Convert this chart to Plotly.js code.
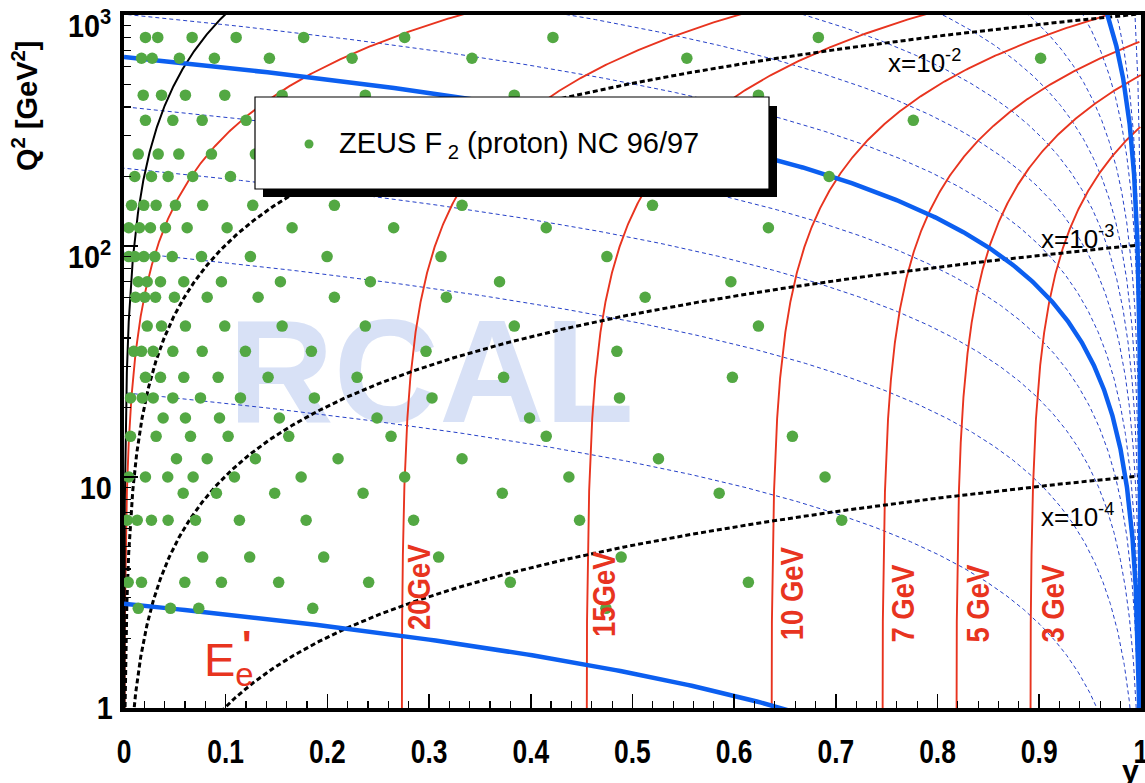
<!DOCTYPE html>
<html>
<head>
<meta charset="utf-8">
<script src="https://cdn.plot.ly/plotly-3.0.1.min.js"></script>
<style>
  html, body { margin: 0; padding: 0; background: #ffffff; }
  #plot { width: 1145px; height: 783px; }
</style>
</head>
<body>
<div id="plot"></div>
<script>
// HERA beam settings (GeV)
const E_ELECTRON = 27.5;
const E_PROTON = 920;
const S_CM = 4 * E_ELECTRON * E_PROTON;

// Contours drawn on the (y, Q^2) plane
const E_PRIME_VALUES = [27.5, 20, 15, 10, 7, 5, 3];          // scattered electron energy, GeV
const E_PRIME_LABELS = ['20GeV', '15GeV', '10 GeV', '7 GeV', '5 GeV', '3 GeV'];
const THETA_CAL = [35, 130, 176.5];                             // calorimeter boundaries, degrees
const THETA_GRID = [15, 30, 45, 60, 75, 90, 105, 120, 140, 150, 160, 170];
const X_DASHED = [1e-2, 1e-3, 1e-4];
const X_SOLID = [1e-1];
const X_LABELS = ['x=10<sup>-2</sup>', 'x=10<sup>-3</sup>', 'x=10<sup>-4</sup>'];

// ZEUS F2 (proton) NC 96/97 bin centres: Q^2 rows and the y of each bin in that row
const Q2_BINS = [800, 650, 450, 350, 250, 200, 150, 120, 90, 70, 60, 45, 35, 27, 22, 18, 15, 12, 10, 8.5, 6.5, 4.5, 3.5, 2.7];
const Y_BINS = [
  [0.0211, 0.0332, 0.0670, 0.1103, 0.1767, 0.2760, 0.4218, 0.6828],
  [0.0172, 0.0277, 0.0545, 0.0889, 0.1430, 0.2243, 0.3422, 0.5535, 0.9014],
  [0.0189, 0.0369, 0.0604, 0.0991, 0.1555, 0.2373, 0.3838, 0.6239],
  [0.0211, 0.0480, 0.0769, 0.1201, 0.7762],
  [0.0140, 0.0336, 0.0539, 0.0860, 0.1292],
  [0.0106, 0.0270, 0.0434, 0.0676, 0.1047, 0.6934],
  [0.0074, 0.0195, 0.0316, 0.0506, 0.0774, 0.1266, 0.2069, 0.3324, 0.5197],
  [0.0047, 0.0152, 0.0260, 0.0408, 0.0621, 0.1014, 0.1653, 0.2652, 0.4152, 0.6337],
  [0.0047, 0.0106, 0.0195, 0.0303, 0.0474, 0.0762, 0.1243, 0.1997, 0.3117, 0.4749],
  [0.0140, 0.0228, 0.0359, 0.0588, 0.0958, 0.1538, 0.2423, 0.3693, 0.5968],
  [0.0113, 0.0204, 0.0310, 0.0496, 0.0818, 0.1319, 0.2069, 0.3170, 0.5125],
  [0.0228, 0.0369, 0.0604, 0.0991, 0.1555, 0.2373, 0.3838, 0.6239],
  [0.0096, 0.0172, 0.0287, 0.0480, 0.0769, 0.1194, 0.1843, 0.2970, 0.4847],
  [0.0211, 0.0359, 0.0588, 0.0926, 0.1417, 0.2292, 0.3733, 0.5983],
  [0.0064, 0.0179, 0.0287, 0.0480, 0.0752, 0.1145, 0.1872, 0.3029, 0.4873],
  [0.0385, 0.0604, 0.0939, 0.1528, 0.2488, 0.3988],
  [0.0064, 0.0316, 0.0654, 0.1024, 0.1620, 0.2626, 0.4152, 0.6573],
  [0.0516, 0.0818, 0.1292, 0.2105, 0.3324, 0.5256],
  [0.0047, 0.0211, 0.0430, 0.0680, 0.1086, 0.1742, 0.2760, 0.4375, 0.6894],
  [0.0582, 0.0909, 0.1482, 0.2351, 0.3720, 0.5853],
  [0.0031, 0.0130, 0.0270, 0.0434, 0.0703, 0.1135, 0.1791, 0.2848, 0.4480, 0.7058],
  [0.0774, 0.1236, 0.1964, 0.3094, 0.4889],
  [0.0041, 0.0172, 0.0598, 0.0958, 0.1521, 0.2406, 0.3799, 0.6140],
  [0.0140, 0.0457, 0.0735, 0.1856, 0.4739]
];

const COL_RED = '#e8341f';
const COL_BLUE = '#0c5ff0';
const COL_BLUE_DASH = '#2540c8';
const COL_GREEN = '#53a843';

// Q^2 samples (log spaced) used to trace every kinematic contour
const logQ = [];
for (let u = -1; u <= 3.6001; u += 0.004) logQ.push(Math.pow(10, u));

// constant scattered-electron energy: E' = E(1-y) + Q^2/(4E)
function energyLine(ep) {
  const xs = [], ys = [];
  logQ.forEach(q => {
    const y = 1 - (ep - q / (4 * E_ELECTRON)) / E_ELECTRON;
    if (y >= 0 && y <= 1) { xs.push(y); ys.push(q); }
  });
  return { xs, ys };
}

// constant electron polar angle: Q^2 = 4E^2 (1-y) cot^2(theta/2)
function angleLine(thetaDeg) {
  const c = 1 / Math.tan(thetaDeg * Math.PI / 360);
  const q0 = 4 * E_ELECTRON * E_ELECTRON * c * c;
  const xs = [], ys = [];
  logQ.forEach(q => {
    const y = 1 - q / q0;
    if (y >= 0 && y <= 1) { xs.push(y); ys.push(q); }
  });
  xs.push(0); ys.push(q0);
  return { xs, ys };
}

// constant Bjorken x: Q^2 = s x y
function xLine(x) {
  const xs = [], ys = [];
  logQ.forEach(q => {
    const y = q / (S_CM * x);
    if (y > 0 && y <= 1) { xs.push(y); ys.push(q); }
  });
  return { xs, ys };
}

const traces = [];

// RCAL region name, sitting behind everything else
traces.push({
  x: [0.302], y: [25], mode: 'text', text: ['RCAL'],
  textfont: { family: 'Liberation Sans, Arial, sans-serif', size: 146, weight: 'bold', color: '#d8e1f6' },
  textposition: 'middle center', hoverinfo: 'skip', showlegend: false
});

THETA_GRID.forEach(t => {
  const l = angleLine(t);
  traces.push({ x: l.xs, y: l.ys, mode: 'lines', hoverinfo: 'skip', showlegend: false,
    line: { color: COL_BLUE_DASH, width: 1, dash: '4px,3px' } });
});

E_PRIME_VALUES.forEach(ep => {
  const l = energyLine(ep);
  traces.push({ x: l.xs, y: l.ys, mode: 'lines', hoverinfo: 'skip', showlegend: false,
    line: { color: COL_RED, width: 1.9 } });
});

X_SOLID.forEach(x => {
  const l = xLine(x);
  traces.push({ x: l.xs, y: l.ys, mode: 'lines', hoverinfo: 'skip', showlegend: false,
    line: { color: '#000000', width: 2 } });
});

X_DASHED.forEach(x => {
  const l = xLine(x);
  traces.push({ x: l.xs, y: l.ys, mode: 'lines', hoverinfo: 'skip', showlegend: false,
    line: { color: '#000000', width: 3, dash: '5px,3px' } });
});

THETA_CAL.forEach(t => {
  const l = angleLine(t);
  traces.push({ x: l.xs, y: l.ys, mode: 'lines', hoverinfo: 'skip', showlegend: false,
    line: { color: COL_BLUE, width: 4.5 } });
});

// data bins
const px = [], py = [];
Q2_BINS.forEach((q, i) => Y_BINS[i].forEach(y => { px.push(y); py.push(q); }));
traces.push({
  x: px, y: py, mode: 'markers', name: 'ZEUS F2 (proton) NC 96/97', showlegend: false,
  marker: { color: COL_GREEN, size: 11.5, line: { width: 0 } }
});

// pixel helpers for layout decorations (plot area 124..1141 x 15..708)
const PX = p => (p - 124) / 1017;
const PY = p => (708 - p) / 693;

const FONT = 'Liberation Sans, Arial, Helvetica, sans-serif';
const annotations = [];
const narrowAnn = [];

[[419, 587], [604, 594], [792, 594], [903, 604], [978, 604], [1053, 604]].forEach((p, i) => {
  narrowAnn.push(annotations.length);
  annotations.push({ xref: 'paper', yref: 'paper', x: PX(p[0]), y: PY(p[1]), text: E_PRIME_LABELS[i],
    textangle: -90, showarrow: false, xanchor: 'center', yanchor: 'middle',
    font: { family: FONT, size: 32, color: COL_RED, weight: 'bold' } });
});

[[886, 61], [1039, 238], [1039, 515]].forEach((p, i) => {
  annotations.push({ xref: 'paper', yref: 'paper', x: PX(p[0]), y: PY(p[1]), text: X_LABELS[i],
    showarrow: false, xanchor: 'left', yanchor: 'middle',
    font: { family: FONT, size: 26, color: '#000000' } });
});

annotations.push({ xref: 'paper', yref: 'paper', x: PX(202), y: PY(663), text: 'E<sub>e</sub>',
  showarrow: false, xanchor: 'left', yanchor: 'middle',
  font: { family: FONT, size: 47, color: COL_RED } });
annotations.push({ xref: 'paper', yref: 'paper', x: PX(247), y: PY(645), text: '\'',
  showarrow: false, xanchor: 'center', yanchor: 'middle',
  font: { family: FONT, size: 40, color: COL_RED, weight: 'bold' } });

annotations.push({ xref: 'paper', yref: 'paper', x: PX(337), y: PY(145),
  text: 'ZEUS F<sub> 2</sub> (proton) NC 96/97',
  showarrow: false, xanchor: 'left', yanchor: 'middle',
  font: { family: FONT, size: 29, color: '#000000' } });

annotations.push({ xref: 'paper', yref: 'paper', x: PX(25), y: PY(106),
  text: 'Q<sup>2</sup> [GeV<sup>2</sup>]', textangle: -90,
  showarrow: false, xanchor: 'center', yanchor: 'middle',
  font: { family: FONT, size: 29, color: '#000000', weight: 'bold' } });

annotations.push({ xref: 'paper', yref: 'paper', x: PX(1130), y: PY(770), text: 'y',
  showarrow: false, xanchor: 'center', yanchor: 'middle',
  font: { family: FONT, size: 30, color: '#000000', weight: 'bold' } });

const shapes = [
  { type: 'rect', xref: 'paper', yref: 'paper', x0: PX(263), x1: PX(777), y0: PY(106), y1: PY(197),
    fillcolor: '#000000', line: { width: 0 } },
  { type: 'rect', xref: 'paper', yref: 'paper', x0: PX(255), x1: PX(769), y0: PY(97), y1: PY(189),
    fillcolor: '#ffffff', line: { color: '#000000', width: 1.2 } },
  { type: 'circle', xref: 'paper', yref: 'paper', xsizemode: 'pixel', ysizemode: 'pixel',
    xanchor: PX(309), yanchor: PY(144), x0: -4.5, x1: 4.5, y0: -4.5, y1: 4.5,
    fillcolor: COL_GREEN, line: { width: 0 } }
];

const layout = {
  width: 1145, height: 783,
  margin: { l: 124, r: 4, t: 15, b: 75 },
  paper_bgcolor: '#ffffff', plot_bgcolor: '#ffffff',
  showlegend: false,
  xaxis: {
    range: [0, 1.0001], tickmode: 'array',
    tickvals: [0, 0.1, 0.2, 0.3, 0.4, 0.5, 0.6, 0.7, 0.8, 0.9, 1],
    ticktext: ['0', '0.1', '0.2', '0.3', '0.4', '0.5', '0.6', '0.7', '0.8', '0.9', '1'],
    ticks: 'inside', ticklen: 14, tickwidth: 1.5, tickcolor: '#000',
    minor: { dtick: 0.02, tick0: 0, ticks: 'inside', ticklen: 7, tickwidth: 1.2, tickcolor: '#000', showgrid: false },
    showgrid: false, zeroline: false,
    showline: true, linecolor: '#000', linewidth: 4, mirror: true,
    ticklabelstandoff: 11, ticklabeloverflow: 'allow',
    tickfont: { family: FONT, size: 33, color: '#000', weight: 'bold' }
  },
  yaxis: {
    type: 'log', range: [-0.0001, 3.0001],
    tickmode: 'array', tickvals: [1, 10, 100, 1000],
    ticktext: ['1', '10', '10<sup>2</sup>', '10<sup>3</sup>'],
    ticks: 'inside', ticklen: 14, tickwidth: 1.5, tickcolor: '#000',
    minor: { tickmode: 'array', tickvals: [2,3,4,5,6,7,8,9,20,30,40,50,60,70,80,90,200,300,400,500,600,700,800,900],
      ticks: 'inside', ticklen: 7, tickwidth: 1.2, tickcolor: '#000', showgrid: false },
    showgrid: false, zeroline: false,
    showline: true, linecolor: '#000', linewidth: 4, mirror: true,
    ticklabelstandoff: 0, ticklabeloverflow: 'allow',
    tickfont: { family: FONT, size: 32, color: '#000', weight: 'bold' }
  },
  annotations, shapes
};

// narrow the bold labels along their reading direction, keeping their centres fixed
function condense(el, sx, dy) {
  const b = el.getBBox();
  const cx = b.x + b.width / 2, cy = b.y + b.height / 2;
  const t = el.getAttribute('transform') || '';
  el.setAttribute('transform', t + ' translate(0,' + (dy || 0) + ') translate(' + cx + ',' + cy + ') scale(' + sx + ',1) translate(' + (-cx) + ',' + (-cy) + ')');
}

Plotly.newPlot('plot', traces, layout, { staticPlot: true, displayModeBar: false }).then(gd => {
  gd.querySelectorAll('.xtick text').forEach(el => condense(el, 0.8, 0));
  gd.querySelectorAll('.ytick text').forEach(el => {
    const lbl = el.textContent.trim();
    condense(el, 0.9, lbl === '1' ? 0 : (lbl === '103' ? 8 : 11));
  });
  narrowAnn.forEach(i => {
    const el = gd.querySelector('.annotation[data-index="' + i + '"] text');
    if (el) condense(el, 0.86, 0);
  });
});
</script>
</body>
</html>
